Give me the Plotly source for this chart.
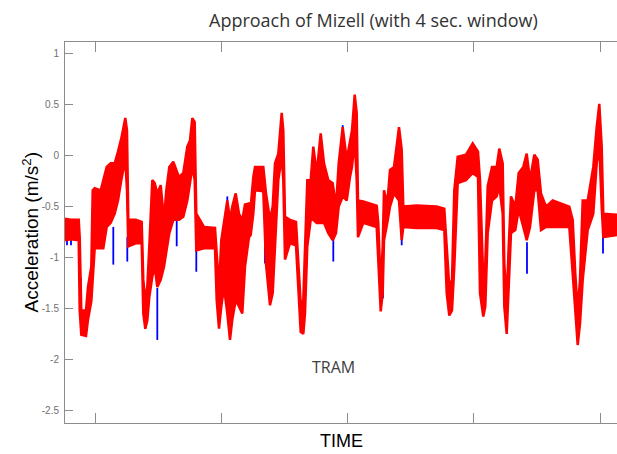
import plotly.graph_objects as go

# time samples (arbitrary units) with upper / lower envelope of the red trace (m/s^2)
t = [0, 5.7, 13.7, 14.7, 16.3, 21, 23, 26.3, 27.7, 29.7, 35.7, 38.3, 41.7, 45.7, 49.7, 53, 56.3,
     60.3, 62, 63.3, 70.7, 76.7, 78.3, 80.3, 82.3, 84.3, 87.3, 89.7, 92.3, 95.7, 99, 101.3, 104.3,
     108.3, 114, 118.3, 122.3, 125, 127.3, 129.7, 131.3, 139, 150, 151.7, 154, 156.3, 159, 162.3,
     165, 167.3, 170.7, 174, 177.3, 180, 184,
     185.7, 188.3, 190, 198.3, 201, 205, 207.7, 210, 213.3, 216.7, 218.3, 220, 225, 231, 233.3,
     235.7, 238.3, 240, 242.3, 245.7, 248.3, 251.7, 255.7, 259, 263.3, 267.7, 271, 273.7, 277.7,
     281.7, 285, 287, 289.7, 291.7, 293, 298.3, 311.7, 313.3, 315.7, 317.7, 319, 322.3, 325, 329,
     334, 336.7, 338.3, 351.7, 371.7,
     379.3, 381.7, 384.3, 387, 389.3, 392.7, 401, 407.7, 413, 415, 418.3, 420.3, 422.7, 427, 431.7,
     434.3, 437.7, 439.3, 441.7, 443.7, 446, 450.3, 453.7, 458.3, 461.7, 465, 469.3, 472.7, 476,
     481, 487.7, 504.3, 507.7, 510.3, 512.7, 515, 517.7, 522.7, 528.3, 531.7, 534.3, 536.7, 538.3, 552]

upper = [-0.62, -0.63, -0.63, -0.80, -1.52, -1.52, -1.29, -1.09, -0.34, -0.32, -0.34, -0.24, -0.11,
         -0.075, -0.075, 0.04, 0.17, 0.37, 0.25, -0.63, -0.63, -0.65, -1.22, -1.42, -1.29, -0.89,
         -0.24, -0.27, -0.37, -0.29, -0.63, -0.34, -0.11, -0.06, -0.21, -0.17, 0.09, 0.15, 0.37,
         0.33, -0.57, -0.70, -0.71, -0.96, -1.29, -0.83, -0.63, -0.44, -0.63, -0.50, -0.37, -0.57,
         -0.63, -0.48, -0.47,
         -0.50, -0.21, -0.11, -0.11, -0.37, -0.63, -0.50, -0.075, 0.02, 0.42, 0.25, -0.60, -0.63,
         -0.65, -0.99, -1.45, -1.42, -0.96, -0.24, -0.24, 0.09, -0.17, 0.22, -0.075, -0.24, -0.27,
         -0.50, -0.075, 0.28, -0.04, 0.15, 0.25, 0.60, 0.42, -0.44, -0.45, -0.49, -0.66, -1.29,
         -0.89, -0.34, -0.47, -0.14, -0.11, 0.28, 0.06, -0.50, -0.49, -0.50,
         -0.52, -0.89, -1.29, -1.22, -0.34, -0.01, 0.01, 0.12, 0.04, -0.24, -1.22, -1.06, -0.30,
         -0.11, -0.11, 0.07, -0.075, -1.06, -1.42, -0.89, -0.40, -0.50, -0.17, -0.11, 0.02, -0.24,
         0.01, -0.04, -0.37, -0.50, -0.44, -0.50, -0.63, -1.16, -1.52, -1.22, -0.44, -0.44, -0.11,
         0.28, 0.51, 0.09, -0.57, -0.58]

lower = [-0.83, -0.82, -0.83, -1.52, -1.76, -1.77, -1.61, -1.43, -1.22, -0.91, -0.91, -0.91, -0.70,
         -0.66, -0.57, -0.44, -0.24, -0.04, -0.34, -0.89, -0.86, -0.86, -1.55, -1.70, -1.62, -1.39,
         -1.19, -1.09, -1.29, -1.22, -1.09, -0.96, -0.76, -0.63, -0.63, -0.60, -0.44, -0.27, -0.11,
         -0.24, -0.93, -0.91, -0.91, -1.42, -1.70, -1.48, -1.29, -1.55, -1.81, -1.61, -1.42, -1.48,
         -1.55, -1.09, -0.80,
         -0.78, -0.57, -0.34, -0.35, -1.06, -1.47, -1.35, -0.83, -0.24, -0.01, -0.24, -1.02, -0.86,
         -0.88, -1.29, -1.73, -1.75, -1.55, -0.89, -0.63, -0.63, -0.66, -0.66, -0.66, -0.76, -0.83,
         -0.76, -0.50, -0.40, -0.44, -0.21, -0.11, 0.15, -0.24, -0.80, -0.66, -0.70, -1.09, -1.53,
         -1.35, -0.83, -0.66, -0.50, -0.37, -0.44, -0.83, -0.70, -0.71, -0.71,
         -0.73, -1.35, -1.57, -1.52, -1.09, -0.27, -0.24, -0.17, -0.21, -1.35, -1.58, -1.48, -0.76,
         -0.44, -0.40, -0.30, -0.57, -1.48, -1.75, -1.35, -0.76, -0.73, -0.53, -0.70, -0.83, -0.70,
         -0.34, -0.34, -0.73, -0.70, -0.70, -0.70, -1.16, -1.55, -1.86, -1.65, -1.22, -0.73, -0.57,
         -0.075, 0.09, -0.50, -0.80, -0.78]

# blue (underlying) series showing through as short spikes
blue_t = [2, 6, 16, 48.3, 62.3, 92.3, 111.7, 131.3, 162.3, 200, 268.3, 277.7, 318, 336.7, 462, 538]
blue_lo = [-0.88, -0.88, -1.50, -1.07, -1.04, -1.81, -0.89, -1.14, -0.70, -1.06, -1.04, -0.40,
           -1.40, -0.88, -1.16, -0.96]
blue_hi = [-0.78, -0.78, -1.20, -0.70, -0.80, -1.30, -0.63, -0.80, -0.40, -0.85, -0.80, 0.30,
           -1.30, -0.75, -0.85, -0.75]

y_ticks = [1, 0.5, 0, -0.5, -1, -1.5, -2, -2.5]
y_tick_text = ["1", "0.5", "0", "-0.5", "-1", "-1.5", "-2", "-2.5"]
x_ticks = [30.5, 156.5, 282.5, 408.5, 535]

bx, by = [], []
for ti, lo, hi in zip(blue_t, blue_lo, blue_hi):
    bx += [ti, ti, None]
    by += [lo, hi, None]

fig = go.Figure()
fig.add_trace(go.Scatter(x=bx, y=by, mode="lines", line=dict(color="#0000FF", width=1.8),
                         hoverinfo="skip", showlegend=False))
fig.add_trace(go.Scatter(x=t, y=lower, mode="lines", line=dict(color="#FF0000", width=2.5),
                         showlegend=False))
fig.add_trace(go.Scatter(x=t, y=upper, mode="lines", line=dict(color="#FF0000", width=2.5),
                         fill="tonexty", fillcolor="#FF0000", showlegend=False))

axis_col = "#8c8c8c"
fig.update_layout(
    width=617, height=454,
    margin=dict(l=65, r=0, t=42, b=31),
    paper_bgcolor="white", plot_bgcolor="white",
    xaxis=dict(range=[0, 552], tickvals=x_ticks, showticklabels=False, ticks="inside",
               ticklen=10, tickcolor=axis_col, showline=True, linecolor=axis_col, linewidth=1,
               mirror="ticks", showgrid=False, zeroline=False),
    yaxis=dict(range=[-2.626, 1.117], tickvals=y_ticks, ticktext=y_tick_text, ticks="inside",
               ticklen=8, tickcolor=axis_col, showline=True, linecolor=axis_col, linewidth=1,
               showgrid=False, zeroline=False, ticklabelstandoff=3,
               tickfont=dict(family="Liberation Sans, Arial", size=10, color="#707070")),
    annotations=[
        dict(text="Approach of Mizell (with 4 sec. window)", xref="paper", yref="paper",
             x=(373 - 65) / 552, y=1, xanchor="center", yanchor="middle", yshift=22,
             showarrow=False, font=dict(family="Open Sans", size=18, color="#333333")),
        dict(text="Acceleration (m/s<sup>2</sup>)", xref="paper", yref="paper", x=0, y=0.5,
             xanchor="center", yanchor="middle", xshift=-35, textangle=-90, showarrow=False,
             font=dict(family="Liberation Sans, Arial", size=19, color="black")),
        dict(text="TIME", xref="paper", yref="paper", x=0.5, y=0, xanchor="center",
             yanchor="middle", yshift=-18, showarrow=False,
             font=dict(family="Liberation Sans, Arial", size=18, color="black")),
        dict(text="TRAM", xref="x", yref="y", x=268, y=-2.08, showarrow=False,
             font=dict(family="Open Sans", size=16, color="#404040")),
    ],
)

fig.write_html("out.html")
